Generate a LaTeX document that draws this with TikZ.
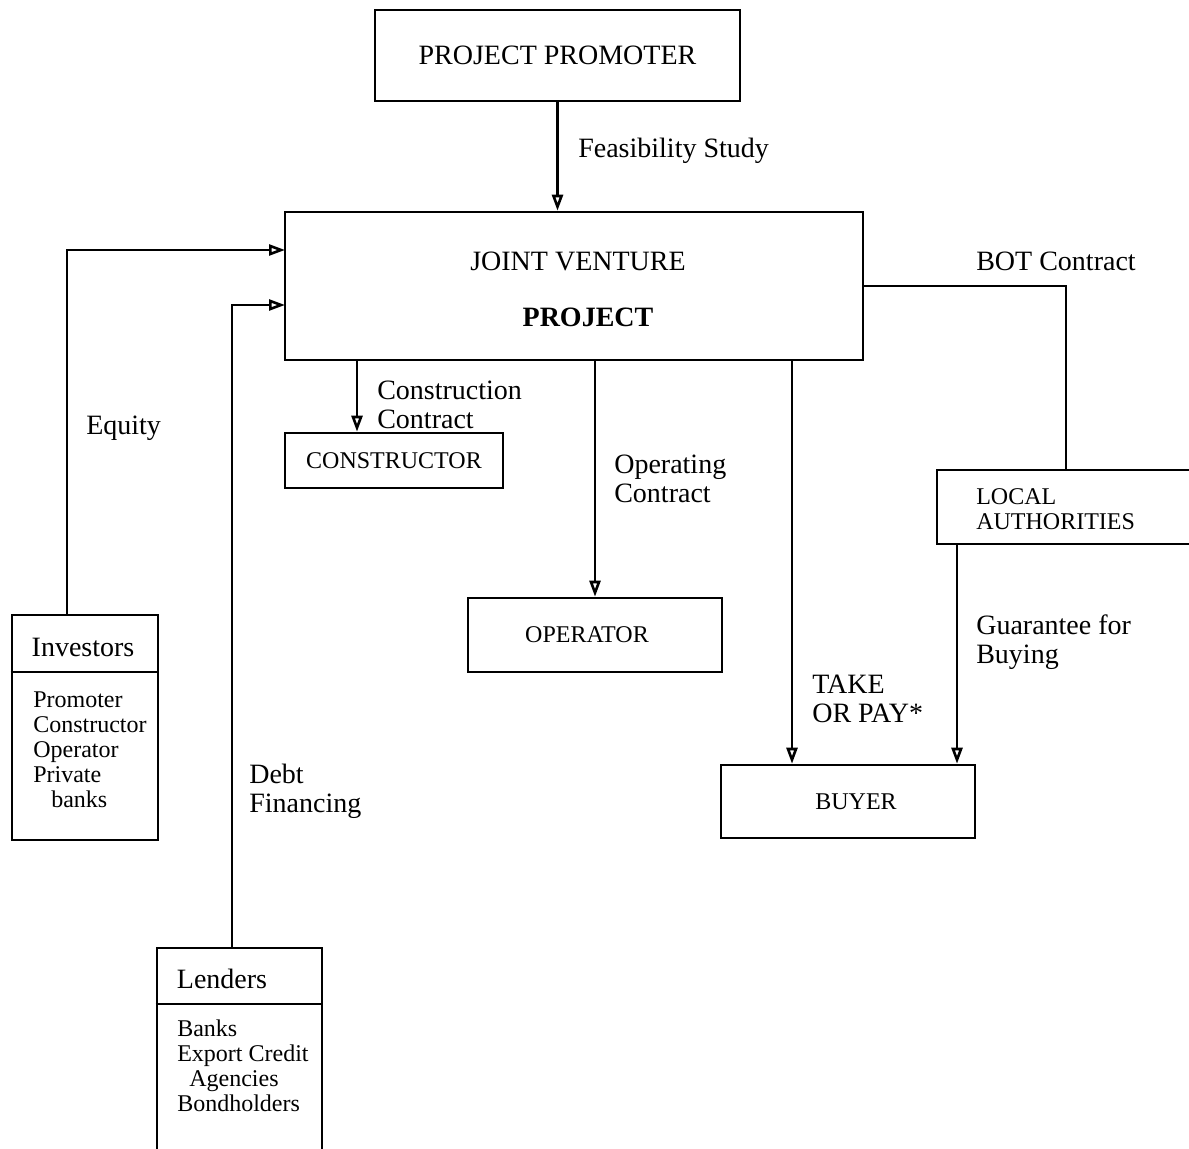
\documentclass[tikz,border=0pt]{standalone}
\usepackage{fontspec}
\setmainfont{Liberation Serif}
\usetikzlibrary{arrows.meta}
\newcommand{\bigText}[0]{\fontsize{14}{14.5}\selectfont}
\newcommand{\smallText}[0]{\fontsize{12}{12.5}\selectfont}

\begin{document}
\begin{tikzpicture}[x=0.5pt, y=-0.5pt, line width=1.3pt]
  \tikzset{
    box/.style={draw, inner sep=0pt, font=\smallText},
    lbl/.style={inner sep=0pt, anchor=west, align=left, font=\bigText},
    arr/.style={-{Triangle[open,length=8pt,width=5.5pt]}}
  }
  \useasboundingbox (0,0) rectangle (1189,1149);
  \node(PROM)[box, minimum width=182.5pt, minimum height=45.5pt, font=\bigText] at (557.5,55.5) {PROJECT PROMOTER};
  \node(JV)[box, minimum width=289pt, minimum height=74pt] at (574,286) {};
  \node(JV-1)[font=\bigText] at (578,261) {JOINT VENTURE};
  \node(JV-2)[font=\bigText] at (588,317) {\textbf{PROJECT}};
  \coordinate(JV-in-1) at (285,250);
  \coordinate(JV-in-2) at (285,305);
  \node(CON)[box, minimum width=109pt, minimum height=27.5pt] at (394,460.5) {CONSTRUCTOR};
  \node(OPR)[box, minimum width=127pt, minimum height=37pt] at (595,635) {\raisebox{-4pt}{OPERATOR}\kern8pt};
  \node(BUY)[box, minimum width=127pt, minimum height=36.5pt] at (848,801.5) {\kern8pt\raisebox{-4pt}{BUYER}};
  \node(LOC)[box, minimum width=129pt, minimum height=37pt] at (1066,507) {};
  \node(LOC-1)[lbl, font=\smallText] at (975,509) {LOCAL\\AUTHORITIES};
  \node(INV)[box, minimum width=73pt, minimum height=112.5pt] at (85,727.5) {};
  \draw (INV.north west |- 0,672) -- (INV.north east |- 0,672);
  \node(INV-1)[font=\bigText] at (83,647) {Investors};
  \node(INV-2)[lbl, anchor=north west, font=\smallText] at (32,690) {Promoter\\Constructor\\Operator\\Private\\\hspace{9pt}banks};
  \node(LEN)[box, minimum width=82.5pt, minimum height=106pt] at (239.5,1054) {};
  \draw (LEN.north west |- 0,1004) -- (LEN.north east |- 0,1004);
  \node(LEN-1)[font=\bigText] at (222,979) {Lenders};
  \node(LEN-2)[lbl, anchor=north west, font=\smallText] at (176,1019) {Banks\\Export Credit\\\hspace{6pt}Agencies\\Bondholders};
  \node(L-feas)[lbl] at (577,151) {Feasibility Study};
  \node(L-equity)[lbl] at (85,428) {Equity};
  \node(L-debt)[lbl] at (248,791) {Debt\\Financing};
  \node(L-constr)[lbl] at (376,405) {Construction\\Contract};
  \node(L-oper)[lbl] at (613,479) {Operating\\Contract};
  \node(L-take)[lbl] at (811,699) {TAKE\\OR PAY*};
  \node(L-bot)[lbl] at (975,261) {BOT Contract};
  \node(L-guar)[lbl] at (975,642) {Guarantee for\\Buying};
  \draw[arr] (PROM.south) -- (PROM.south |- JV.north);
  \draw[arr] ([xshift=-9pt]INV.north) |- (JV-in-1);
  \draw[arr] ([xshift=-3.75pt]LEN.north) |- (JV-in-2);
  \draw[arr] ([xshift=-18.5pt]CON.north |- JV.south) -- ([xshift=-18.5pt]CON.north);
  \draw[arr] (OPR.north |- JV.south) -- (OPR.north);
  \draw[arr] ([xshift=-28pt]BUY.north |- JV.south) -- ([xshift=-28pt]BUY.north);
  \draw[arr] ([xshift=54.5pt]BUY.north |- LOC.south) -- ([xshift=54.5pt]BUY.north);
  \draw (JV.east) -| (LOC.north);
\end{tikzpicture}
\end{document}
